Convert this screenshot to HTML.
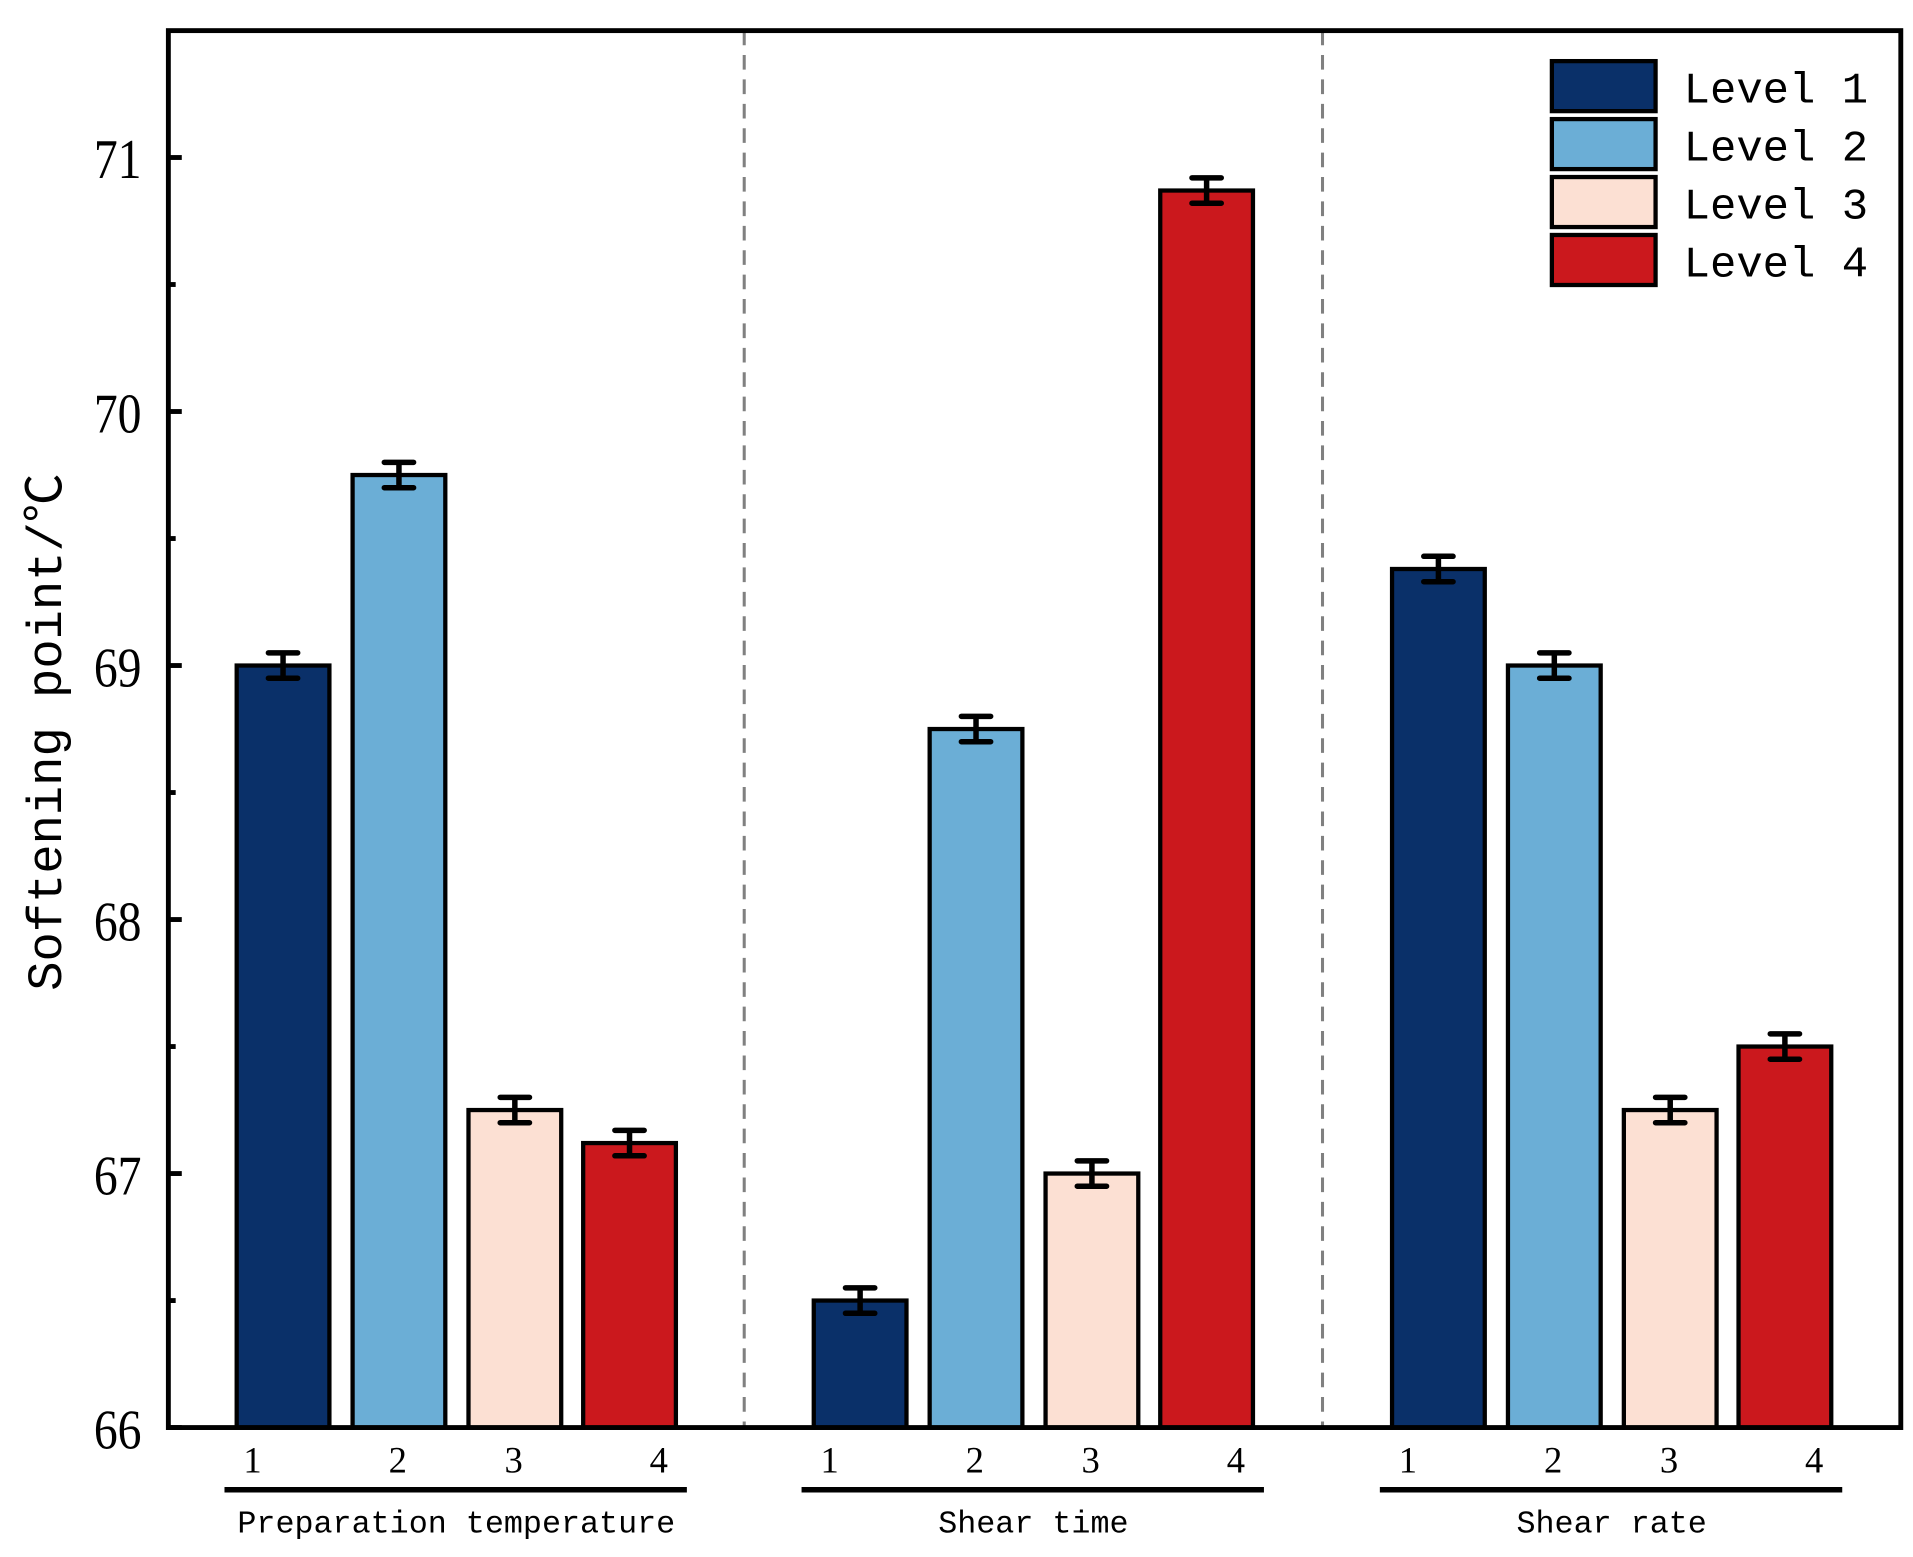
<!DOCTYPE html>
<html><head><meta charset="utf-8"><style>
html,body{margin:0;padding:0;background:#fff;}
svg{display:block;}
</style></head><body>
<svg id="chart" width="1913" height="1557" viewBox="0 0 1568 1276" xmlns="http://www.w3.org/2000/svg">
<g id="plot"></g>
</svg>
<script>
const groups = ["Preparation temperature", "Shear time", "Shear rate"];
const levels = ["Level 1", "Level 2", "Level 3", "Level 4"];
const level1 = [69.0, 66.5, 69.38];
const level2 = [69.75, 68.75, 69.0];
const level3 = [67.25, 67.0, 67.25];
const level4 = [67.12, 70.87, 67.5];
const errors = [0.05, 0.05, 0.05, 0.05];
const yTicks = [66, 67, 68, 69, 70, 71];
const tickNums = ["1", "2", "3", "4"];

const NS = "http://www.w3.org/2000/svg";
const g = document.getElementById("plot");
const L = 138, R = 1558, T = 25, B = 1170;
const yMin = 66, yMax = 71.5;
function y(v){ return 1170 - (v - 66) * 208.2; }
const groupStart = [194, 667, 1141];
const barOffsets = [0, 95, 190, 284];
const barW = 76;
const colors = ["#0a3069", "#6baed6", "#fce0d3", "#cb181d"];
const series = [level1, level2, level3, level4];
function el(tag, attrs, parent){
  const e = document.createElementNS(NS, tag);
  for (const k in attrs) e.setAttribute(k, attrs[k]);
  (parent || g).appendChild(e);
  return e;
}
[610, 1084].forEach(x => {
  const d = el("line", {x1:x, y1:T, x2:x, y2:B, stroke:"#808080", "stroke-width":2.5, "stroke-dasharray":"12,8"});
  
  
});
series.forEach((vals, si) => {
  vals.forEach((v, gi) => {
    const x = groupStart[gi] + barOffsets[si];
    const r = el("rect", {x:x, y:y(v), width:barW, height:y(yMin) - y(v), fill:colors[si], stroke:"#000", "stroke-width":3.5});
    
    
    const cx = x + barW/2, e = errors[si];
    const eb = el("path", {d:`M${cx-12},${y(v+e)}H${cx+12}M${cx},${y(v+e)}V${y(v-e)}M${cx-12},${y(v-e)}H${cx+12}`, stroke:"#000", "stroke-width":4.5, "stroke-linecap":"round", fill:"none"});
    
    
  });
});
const fr = el("rect", {x:L, y:T, width:R-L, height:B-T, fill:"none", stroke:"#000", "stroke-width":4});


yTicks.forEach(t => {
  const tk = el("line", {x1:L, y1:y(t), x2:L+11, y2:y(t), stroke:"#000", "stroke-width":4});
  
  
  const tx = el("text", {x:0, y:0, transform:`translate(${L-22},${y(t)+17}) scale(0.85,1)`, "text-anchor":"end", "font-family":"Liberation Serif, serif", "font-size":46});
  tx.textContent = t;
  
  
  if (t < 71) {
    const mt = el("line", {x1:L, y1:y(t+0.5), x2:L+6, y2:y(t+0.5), stroke:"#000", "stroke-width":4});
    
    
  }
});
const numOffsets = [13, 132, 227, 346];
groups.forEach((name, gi) => {
  tickNums.forEach((n, i) => {
    const t = el("text", {x:groupStart[gi] + numOffsets[i], y:1207, "text-anchor":"middle", "font-family":"Liberation Serif, serif", "font-size":30});
    t.textContent = n;
    
    
  });
  const x0 = groupStart[gi] - 10;
  const ul = el("line", {x1:x0, y1:1221, x2:x0+379, y2:1221, stroke:"#000", "stroke-width":4.5});
  
  
  const gl = el("text", {x:x0+190, y:1256, "text-anchor":"middle", "font-family":"Liberation Mono, monospace", "font-size":26});
  gl.textContent = name;
  
  
});
const yt = el("text", {x:0, y:0, transform:"translate(50,600) rotate(-90)", "text-anchor":"middle", "font-family":"Liberation Mono, Noto Sans CJK SC, monospace", "font-size":40});
yt.textContent = "Softening point/℃";


levels.forEach((lv, i) => {
  const yy = 50 + i * 47.5;
  const sw = el("rect", {x:1272, y:yy, width:85, height:41, fill:colors[i], stroke:"#000", "stroke-width":3.5});
  
  
  const lt = el("text", {x:1380, y:yy+34, "font-family":"Liberation Mono, monospace", "font-size":36});
  lt.textContent = lv;
  
  
});
</script>
</body></html>
